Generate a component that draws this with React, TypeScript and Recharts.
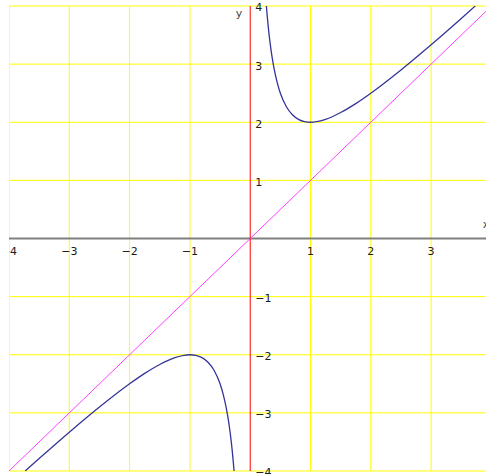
import React from 'react';
import {
  LineChart,
  Line,
  XAxis,
  YAxis,
  ReferenceLine,
  ReferenceDot,
} from 'recharts';

// Visible window of the plot
const X_MIN = -4;
const X_MAX = 3.91;
const Y_MIN = -4;
const Y_MAX = 4;

// Grid positions (the axes themselves are drawn separately) and labelled ticks
const xGridTicks = [-4, -3, -2, -1, 1, 2, 3];
const yGridTicks = [-4, -3, -2, -1, 1, 2, 3, 4];
const xLabelTicks = [-4, -3, -2, -1, 1, 2, 3];
const yLabelTicks = [4, 3, 2, 1, -1, -2, -3, -4];

// y = x + 1/x, branch for x > 0
const rightX = [0.268, 0.28, 0.3, 0.33, 0.36, 0.4, 0.45, 0.5, 0.6, 0.7, 0.8, 0.9, 1.0, 1.1, 1.25, 1.5, 1.75, 2.0, 2.5, 3.0, 3.5, 3.732];
const rightY = [4.0, 3.851, 3.633, 3.36, 3.138, 2.9, 2.672, 2.5, 2.267, 2.129, 2.05, 2.011, 2.0, 2.009, 2.05, 2.167, 2.321, 2.5, 2.9, 3.333, 3.786, 4.0];

// y = x + 1/x, branch for x < 0
const leftX = [-3.732, -3.5, -3.0, -2.5, -2.0, -1.75, -1.5, -1.25, -1.1, -1.0, -0.9, -0.8, -0.7, -0.6, -0.5, -0.45, -0.4, -0.36, -0.33, -0.3, -0.28, -0.268];
const leftY = [-4.0, -3.786, -3.333, -2.9, -2.5, -2.321, -2.167, -2.05, -2.009, -2.0, -2.011, -2.05, -2.129, -2.267, -2.5, -2.672, -2.9, -3.138, -3.36, -3.633, -3.851, -4.0];

// Oblique asymptote y = x
const diagX = [-4, 3.91];
const diagY = [-4, 3.91];

const zip = (xs: number[], ys: number[]) => xs.map((x, i) => ({ x, y: ys[i] }));

const rightBranch = zip(rightX, rightY);
const leftBranch = zip(leftX, leftY);
const asymptote = zip(diagX, diagY);

const fmt = (v: number) => (v < 0 ? `\u2212${Math.abs(v)}` : `${v}`);

const labelFont = {
  fontFamily: 'DejaVu Sans, Verdana, sans-serif',
  fontSize: 11,
  fill: '#1a1a1a',
};

const GRID = '#ffff00';

export default function App() {
  return (
    <div
      style={{
        position: 'absolute',
        left: 9,
        top: 0,
        width: 477,
        height: 474,
        overflow: 'hidden',
        background: '#fff',
      }}
    >
      <LineChart width={477} height={474} margin={{ top: 6, right: 0, bottom: 3, left: 0 }}>
        <XAxis
          type="number"
          dataKey="x"
          domain={[X_MIN, X_MAX]}
          ticks={xGridTicks}
          allowDataOverflow
          height={0}
          tick={false}
          axisLine={false}
          tickLine={false}
        />
        <YAxis
          type="number"
          dataKey="y"
          domain={[Y_MIN, Y_MAX]}
          ticks={yGridTicks}
          allowDataOverflow
          width={0}
          tick={false}
          axisLine={false}
          tickLine={false}
        />

        {/* yellow unit grid */}
        {xGridTicks.map((v) => (
          <ReferenceLine key={`gx${v}`} x={v} stroke={GRID} strokeWidth={1} />
        ))}
        {yGridTicks.map((v) => (
          <ReferenceLine key={`gy${v}`} y={v} stroke={GRID} strokeWidth={1} />
        ))}

        {/* coordinate axes */}
        <ReferenceLine y={0} stroke="#808080" strokeWidth={2} />
        <ReferenceLine x={0} stroke="#ff0000" strokeWidth={1} />

        <Line
          data={asymptote}
          dataKey="y"
          type="linear"
          stroke="#ff40ff"
          strokeWidth={1}
          dot={false}
          isAnimationActive={false}
        />
        <Line
          data={leftBranch}
          dataKey="y"
          type="monotone"
          stroke="#34349a"
          strokeWidth={1.3}
          dot={false}
          isAnimationActive={false}
        />
        <Line
          data={rightBranch}
          dataKey="y"
          type="monotone"
          stroke="#34349a"
          strokeWidth={1.3}
          dot={false}
          isAnimationActive={false}
        />

        {xLabelTicks.map((v) => (
          <ReferenceDot
            key={`xl${v}`}
            x={v}
            y={0}
            r={1}
            fill="none"
            stroke="none"
            label={{ value: fmt(v), position: 'bottom', offset: 8, ...labelFont }}
          />
        ))}
        {yLabelTicks.map((v) => (
          <ReferenceDot
            key={`yl${v}`}
            x={0}
            y={v}
            r={1}
            fill="none"
            stroke="none"
            label={{ value: fmt(v), position: 'right', offset: 4, dy: 1.5, ...labelFont }}
          />
        ))}
        <ReferenceDot
          x={0}
          y={Y_MAX}
          r={1}
          fill="none"
          stroke="none"
          label={{ value: 'y', position: 'left', offset: 7, dy: 7, ...labelFont, fill: '#444' }}
        />
        <ReferenceDot
          x={X_MAX}
          y={0}
          r={1}
          fill="none"
          stroke="none"
          label={{ value: 'x', position: 'top', offset: 10, ...labelFont, fill: '#444' }}
        />
      </LineChart>
    </div>
  );
}
